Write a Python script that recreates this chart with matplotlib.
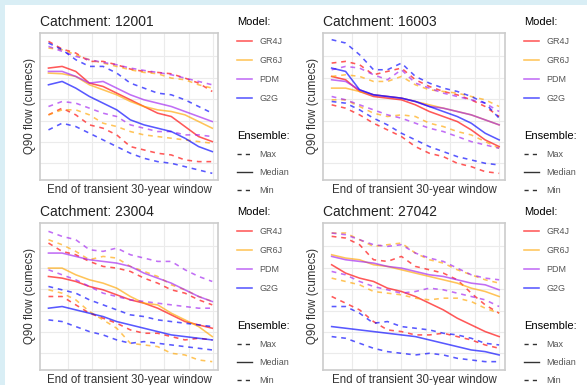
import numpy as np
import matplotlib.pyplot as plt
from matplotlib.lines import Line2D
from matplotlib.patches import Rectangle

plt.rcParams['font.family'] = ['Liberation Sans', 'DejaVu Sans']

# end year of each transient 30-year window
years = [2020, 2025, 2030, 2035, 2040, 2045, 2050, 2055, 2060, 2065, 2070, 2075, 2080]
catchments = ['12001', '16003', '23004', '27042']
models = ['GR4J', 'GR6J', 'PDM', 'G2G']
model_colours = ['#FF0000', '#FFA500', '#A020F0', '#0000FF']
ensembles = ['Max', 'Median', 'Min']

# Q90 flow, arbitrary units
# catchment 12001
c12001_gr4j_max = [415, 392, 380, 355, 355, 345, 332, 325, 322, 318, 305, 290, 265]
c12001_gr4j_med = [335, 340, 325, 290, 280, 260, 240, 220, 200, 190, 160, 130, 115]
c12001_gr4j_min = [195, 215, 195, 165, 155, 135, 100, 90, 80, 75, 60, 55, 55]
c12001_gr6j_max = [395, 390, 375, 360, 350, 340, 330, 322, 318, 305, 300, 285, 275]
c12001_gr6j_med = [320, 318, 310, 285, 270, 255, 235, 220, 210, 205, 195, 175, 155]
c12001_gr6j_min = [195, 210, 210, 195, 170, 160, 145, 135, 130, 125, 120, 115, 110]
c12001_pdm_max = [400, 385, 370, 360, 352, 345, 335, 328, 322, 315, 305, 295, 285]
c12001_pdm_med = [325, 325, 310, 290, 295, 275, 255, 240, 230, 220, 205, 190, 175]
c12001_pdm_min = [220, 235, 230, 215, 200, 190, 165, 155, 145, 145, 135, 135, 130]
c12001_g2g_max = [410, 390, 360, 340, 340, 320, 290, 275, 260, 255, 240, 220, 200]
c12001_g2g_med = [285, 295, 275, 250, 230, 210, 180, 165, 155, 145, 125, 100, 85]
c12001_g2g_min = [150, 170, 160, 140, 120, 100, 80, 65, 55, 50, 40, 30, 20]

# catchment 16003
c16003_gr4j_max = [350, 355, 345, 315, 325, 335, 300, 280, 265, 255, 240, 220, 190]
c16003_gr4j_med = [310, 300, 265, 250, 245, 240, 225, 205, 190, 175, 150, 120, 100]
c16003_gr4j_min = [225, 215, 195, 170, 150, 130, 100, 80, 70, 50, 40, 25, 20]
c16003_gr6j_max = [310, 315, 310, 295, 295, 310, 285, 270, 265, 260, 250, 240, 220]
c16003_gr6j_med = [275, 275, 265, 255, 250, 245, 235, 225, 215, 205, 195, 180, 165]
c16003_gr6j_min = [240, 240, 220, 200, 190, 195, 190, 170, 160, 145, 135, 115, 95]
c16003_pdm_max = [330, 340, 335, 315, 300, 330, 290, 275, 260, 250, 240, 230, 205]
c16003_pdm_med = [300, 295, 270, 255, 250, 245, 235, 220, 215, 205, 195, 180, 165]
c16003_pdm_min = [250, 240, 225, 210, 195, 185, 170, 155, 145, 130, 115, 105, 95]
c16003_g2g_max = [420, 410, 375, 330, 330, 350, 310, 290, 275, 265, 250, 230, 185]
c16003_g2g_med = [335, 325, 270, 255, 250, 245, 235, 220, 205, 190, 170, 140, 120]
c16003_g2g_min = [235, 230, 210, 185, 165, 140, 120, 100, 85, 70, 60, 50, 45]

# catchment 23004
c23004_gr4j_max = [380, 355, 345, 325, 310, 305, 295, 275, 260, 240, 230, 210, 195]
c23004_gr4j_med = [280, 275, 265, 250, 240, 225, 210, 200, 185, 165, 145, 135, 125]
c23004_gr4j_min = [220, 220, 195, 170, 155, 140, 120, 110, 110, 100, 90, 95, 90]
c23004_gr6j_max = [390, 375, 355, 330, 340, 335, 310, 295, 280, 255, 240, 220, 205]
c23004_gr6j_med = [305, 305, 285, 270, 260, 245, 220, 200, 195, 170, 150, 130, 100]
c23004_gr6j_min = [240, 230, 210, 175, 150, 125, 80, 75, 70, 50, 45, 30, 25]
c23004_pdm_max = [415, 400, 390, 360, 355, 365, 345, 335, 325, 325, 300, 280, 265]
c23004_pdm_med = [350, 350, 340, 330, 325, 320, 310, 290, 275, 260, 240, 220, 205]
c23004_pdm_min = [300, 285, 270, 250, 230, 220, 210, 205, 200, 195, 190, 185, 185]
c23004_g2g_max = [250, 240, 230, 210, 195, 180, 165, 160, 150, 145, 140, 135, 130]
c23004_g2g_med = [185, 190, 180, 170, 160, 145, 135, 125, 115, 105, 100, 95, 90]
c23004_g2g_min = [150, 145, 130, 115, 105, 90, 80, 85, 80, 75, 70, 65, 60]

# catchment 27042
c27042_gr4j_max = [400, 395, 375, 330, 325, 340, 310, 300, 290, 270, 230, 195, 170]
c27042_gr4j_med = [315, 290, 275, 265, 245, 235, 220, 200, 180, 155, 135, 115, 100]
c27042_gr4j_min = [220, 200, 180, 145, 120, 115, 105, 105, 110, 100, 90, 75, 65]
c27042_gr6j_max = [410, 410, 390, 370, 375, 380, 350, 330, 320, 300, 285, 270, 260]
c27042_gr6j_med = [345, 335, 330, 315, 310, 300, 290, 280, 270, 260, 245, 235, 220]
c27042_gr6j_min = [275, 265, 255, 235, 230, 225, 215, 210, 215, 215, 205, 185, 170]
c27042_pdm_max = [410, 405, 390, 375, 370, 375, 350, 335, 325, 305, 285, 275, 270]
c27042_pdm_med = [340, 330, 325, 320, 310, 305, 295, 285, 280, 270, 260, 255, 240]
c27042_pdm_min = [295, 285, 265, 250, 240, 230, 235, 245, 240, 230, 220, 210, 190]
c27042_g2g_max = [190, 190, 170, 140, 145, 130, 125, 120, 110, 105, 95, 80, 75]
c27042_g2g_med = [130, 125, 120, 115, 110, 105, 100, 90, 80, 70, 60, 55, 45]
c27042_g2g_min = [100, 95, 80, 65, 55, 50, 45, 50, 45, 35, 30, 25, 25]

series = {
    '12001': {'GR4J': (c12001_gr4j_max, c12001_gr4j_med, c12001_gr4j_min),
              'GR6J': (c12001_gr6j_max, c12001_gr6j_med, c12001_gr6j_min),
              'PDM': (c12001_pdm_max, c12001_pdm_med, c12001_pdm_min),
              'G2G': (c12001_g2g_max, c12001_g2g_med, c12001_g2g_min)},
    '16003': {'GR4J': (c16003_gr4j_max, c16003_gr4j_med, c16003_gr4j_min),
              'GR6J': (c16003_gr6j_max, c16003_gr6j_med, c16003_gr6j_min),
              'PDM': (c16003_pdm_max, c16003_pdm_med, c16003_pdm_min),
              'G2G': (c16003_g2g_max, c16003_g2g_med, c16003_g2g_min)},
    '23004': {'GR4J': (c23004_gr4j_max, c23004_gr4j_med, c23004_gr4j_min),
              'GR6J': (c23004_gr6j_max, c23004_gr6j_med, c23004_gr6j_min),
              'PDM': (c23004_pdm_max, c23004_pdm_med, c23004_pdm_min),
              'G2G': (c23004_g2g_max, c23004_g2g_med, c23004_g2g_min)},
    '27042': {'GR4J': (c27042_gr4j_max, c27042_gr4j_med, c27042_gr4j_min),
              'GR6J': (c27042_gr6j_max, c27042_gr6j_med, c27042_gr6j_min),
              'PDM': (c27042_pdm_max, c27042_pdm_med, c27042_pdm_min),
              'G2G': (c27042_g2g_max, c27042_g2g_med, c27042_g2g_min)},
}

W, H = 587, 385
fig = plt.figure(figsize=(W / 100, H / 100), dpi=100)
fig.patch.set_facecolor('#d9eef5')
# white page, light blue strip on top and left
fig.patches.append(Rectangle((5 / W, 0), 1, (H - 5) / H, transform=fig.transFigure,
                             facecolor='white', edgecolor='none', zorder=-10))

# (left, top, width) in pixels for each panel
boxes = [(40, 33, 178), (323, 33, 182), (40, 223, 178), (323, 223, 182)]
ph = 147
styles = {'Max': (0, (3, 3)), 'Median': '-', 'Min': (0, (3, 3))}

for cat, (left, top, pw) in zip(catchments, boxes):
    ax = fig.add_axes([left / W, (H - top - ph) / H, pw / W, ph / H])
    for m, col in zip(models, model_colours):
        for ens, vals in zip(ensembles, series[cat][m]):
            ax.plot(years, vals, color=col, alpha=0.65, lw=1.15, linestyle=styles[ens])
    ax.set_xlim(2016.9, 2082.1)
    ax.set_ylim(0, 440)
    ax.set_xticks(np.arange(2027.3, 2082, 8.8))
    ax.set_yticks(np.arange(50, 400, 64))
    ax.grid(True, color='#ebebeb', lw=0.8)
    ax.set_axisbelow(True)
    ax.tick_params(length=0, labelbottom=False, labelleft=False)
    for s in ax.spines.values():
        s.set_color('#cccccc')
        s.set_linewidth(1.2)
    ax.set_title('Catchment: ' + cat, loc='left', fontsize=10, pad=5, color='#222222')
    ax.set_xlabel('End of transient 30-year window', fontsize=8.3, labelpad=3, color='#333333')
    ax.set_ylabel('Q90 flow (cumecs)', fontsize=8.3, labelpad=3, color='#333333')

    lx = (left + pw + 19) / W
    model_handles = [Line2D([], [], color=c, alpha=0.65, lw=1.15) for c in model_colours]
    leg1 = ax.legend(model_handles, models, title='Model:', loc='upper left',
                     bbox_to_anchor=(lx, (H - top + 16) / H), bbox_transform=fig.transFigure,
                     frameon=False, fontsize=6.5, title_fontsize=8, alignment='left',
                     handlelength=1.7, handletextpad=0.8, labelspacing=1.1,
                     borderpad=0, borderaxespad=0, labelcolor='#555555')
    ax.add_artist(leg1)
    ens_handles = [Line2D([], [], color='#333333', lw=1.0, linestyle=styles[e]) for e in ensembles]
    ax.legend(ens_handles, ensembles, title='Ensemble:', loc='upper left',
              bbox_to_anchor=(lx, (H - top - 98) / H), bbox_transform=fig.transFigure,
              frameon=False, fontsize=6.5, title_fontsize=8, alignment='left',
              handlelength=1.7, handletextpad=0.8, labelspacing=1.0,
              borderpad=0, borderaxespad=0, labelcolor='#555555')

fig.savefig('out.png', dpi=100)
